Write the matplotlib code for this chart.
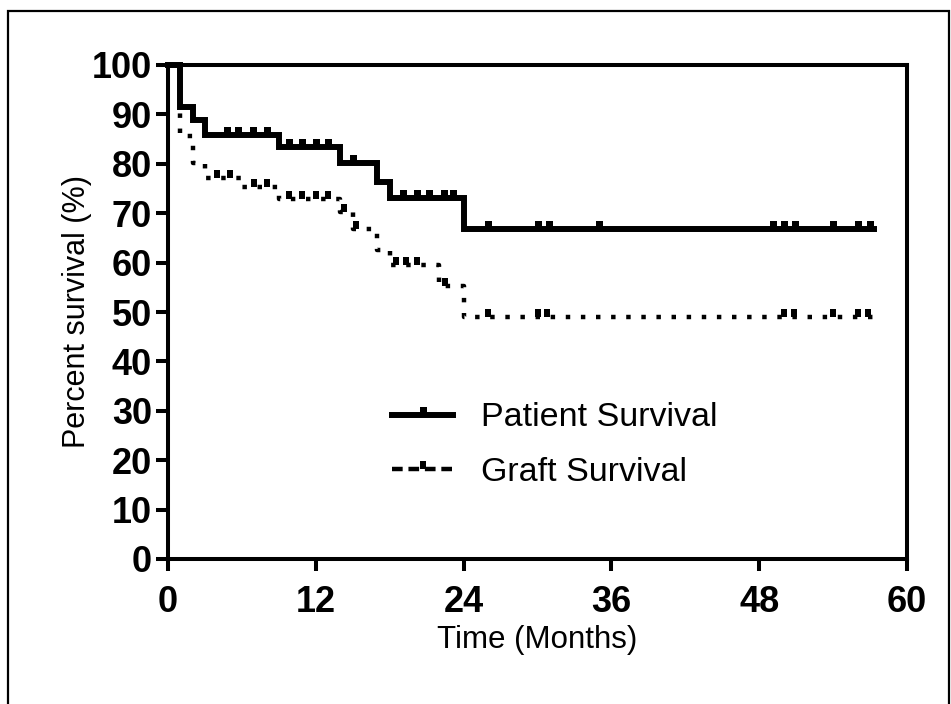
import numpy as np
import matplotlib
matplotlib.use("Agg")
import matplotlib.pyplot as plt
from matplotlib.lines import Line2D
from matplotlib.patches import Rectangle
from matplotlib.path import Path

plt.rcParams['font.family'] = ['Liberation Sans', 'DejaVu Sans']

# Kaplan-Meier step data (months, percent surviving)
patient_t = [0, 1, 2, 3, 9, 14, 17, 18, 24, 57.3]
patient_s = [100, 91.4, 88.9, 85.9, 83.3, 80.2, 76.4, 73.0, 66.9, 66.9]
patient_censor = [4.8, 5.7, 6.9, 8.0, 9.8, 10.9, 12.0, 13.0, 15.0,
                  19.1, 20.2, 21.2, 22.4, 23.1, 26.0, 30.0, 30.9, 35.0,
                  49.1, 50.0, 50.9, 54.0, 56.0, 57.0]

graft_t = [0, 1, 2, 3, 6, 9, 14, 15, 17, 18, 22, 24, 57.3]
graft_s = [100, 85.7, 80.2, 77.1, 75.3, 72.9, 70.2, 66.8, 62.6, 59.6, 55.2, 49.0, 49.0]
graft_censor = [4.0, 5.0, 7.0, 8.0, 9.8, 10.9, 12.0, 13.0, 14.3, 15.3,
                18.5, 19.3, 20.2, 22.5, 26.0, 30.0, 30.8, 50.0, 50.8,
                54.0, 56.0, 56.8]

x_ticks = [0, 12, 24, 36, 48, 60]
y_ticks = list(range(0, 101, 10))


def level_at(times, surv, t):
    i = np.searchsorted(times, t, side='right') - 1
    return np.asarray(surv)[i]


# censor tick: a small block sitting on top of the curve
tick_mark = Path([(-0.42, 0), (0.42, 0), (0.42, 1), (-0.42, 1), (-0.42, 0)],
                 [Path.MOVETO, Path.LINETO, Path.LINETO, Path.LINETO, Path.CLOSEPOLY])

fig = plt.figure(figsize=(9.51, 7.04), dpi=100)
ax = fig.add_axes([168 / 951, 1 - 559 / 704, (907 - 168) / 951, (559 - 65) / 704])

ax.step(patient_t, patient_s, where='post', color='black', lw=4.3,
        solid_joinstyle='miter', clip_on=False, zorder=3)
ax.plot(patient_censor, level_at(patient_t, patient_s, patient_censor), ls='none',
        marker=tick_mark, ms=12, color='black', mew=0, clip_on=False, zorder=3)

ax.step(graft_t, graft_s, where='post', color='black', lw=3.2,
        dashes=(1, 2.4), dash_capstyle='butt', clip_on=False, zorder=3)
ax.plot(graft_censor, level_at(graft_t, graft_s, graft_censor), ls='none',
        marker=tick_mark, ms=11, color='black', mew=0, clip_on=False, zorder=3)

ax.set_xlim(0, 60)
ax.set_ylim(0, 100)
ax.set_xticks(x_ticks)
ax.set_yticks(y_ticks)
ax.tick_params(axis='both', direction='out', length=8.6, width=2.9,
               labelsize=26, color='black')
ax.tick_params(axis='x', pad=10)
ax.tick_params(axis='y', pad=3)
for lab in ax.get_xticklabels() + ax.get_yticklabels():
    lab.set_fontweight('bold')
for sp in ax.spines.values():
    sp.set_linewidth(2.9)

ax.set_xlabel('Time (Months)', fontsize=22.5, labelpad=4)
ax.set_ylabel('Percent survival (%)', fontsize=22, labelpad=0)

handles = [
    Line2D([], [], color='black', lw=4.3, marker=tick_mark, ms=12, mew=0),
    Line2D([], [], color='black', lw=3.2, dashes=(2.4, 1.3), dash_capstyle='butt',
           marker=tick_mark, ms=11, mew=0),
]
ax.legend(handles, ['Patient Survival', 'Graft Survival'], loc='center left',
          bbox_to_anchor=(0.262, 0.23), frameon=False, fontsize=24.5,
          handlelength=1.8, handletextpad=0.8, labelspacing=0.7, numpoints=1)

# outer frame around the figure
fig.patches.append(Rectangle((8 / 951, -0.05), (949 - 8) / 951, 1.05 - 11 / 704,
                             transform=fig.transFigure, fill=False,
                             lw=1.6, edgecolor='black'))

fig.savefig('out.png', dpi=100)
